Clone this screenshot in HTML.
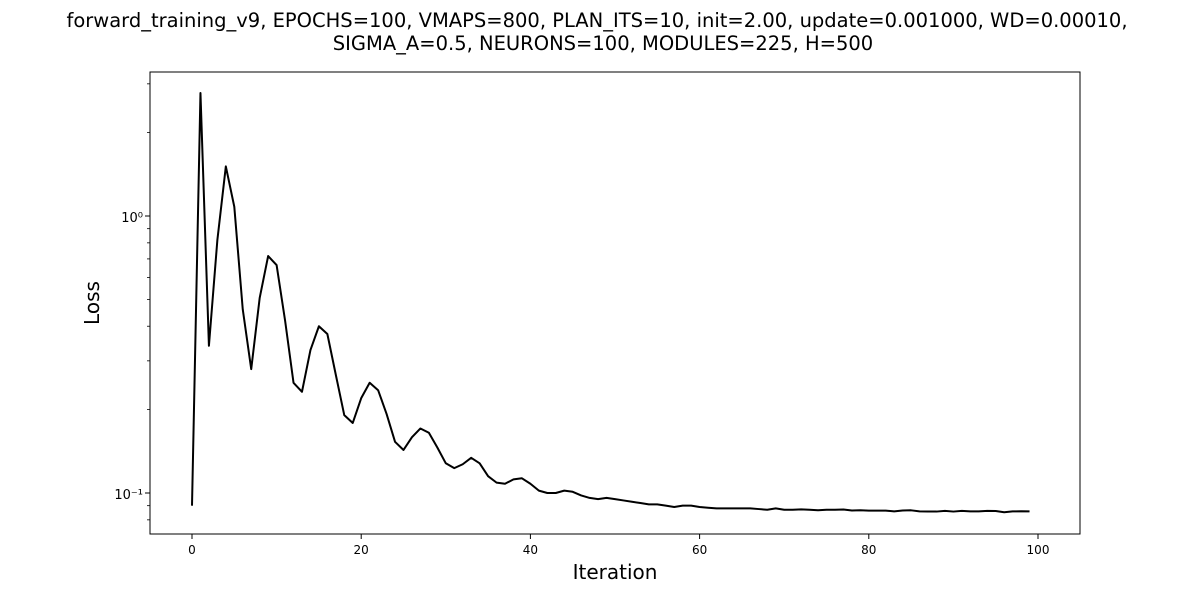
<!DOCTYPE html>
<html><head><meta charset="utf-8"><style>
html,body{margin:0;padding:0;background:#fff;}
svg{display:block;font-family:"DejaVu Sans","Liberation Sans",sans-serif;}
</style></head><body>
<svg id="chart" width="1200" height="600">
<text x="597" y="27" font-size="19.5" text-anchor="middle">forward_training_v9, EPOCHS=100, VMAPS=800, PLAN_ITS=10, init=2.00, update=0.001000, WD=0.00010,</text>
<text x="603" y="50" font-size="19.5" text-anchor="middle">SIGMA_A=0.5, NEURONS=100, MODULES=225, H=500</text>
<g id="axes"></g>
<text x="615" y="579" font-size="20" text-anchor="middle">Iteration</text>
<text transform="translate(99,303) rotate(-90)" font-size="20" text-anchor="middle">Loss</text>
</svg>
<script>
const losses = [0.090,2.78,0.34,0.82,1.51,1.08,0.46,0.28,0.506,0.717,0.665,0.42,0.25,0.232,0.328,0.40,0.375,0.267,0.191,0.179,
0.22,0.25,0.235,0.193,0.153,0.143,0.159,0.171,0.165,0.146,0.128,0.123,0.127,0.134,0.128,0.115,0.109,0.108,0.112,0.113,
0.108,0.102,0.100,0.100,0.102,0.101,0.098,0.096,0.095,0.096,0.095,0.094,0.093,0.092,0.091,0.091,0.090,0.089,0.090,0.090,
0.089,0.0885,0.088,0.088,0.088,0.088,0.088,0.0875,0.087,0.088,0.087,0.087,0.0873,0.087,0.0866,0.087,0.087,0.0872,0.0865,0.0866,
0.0864,0.0864,0.0864,0.0858,0.0865,0.0866,0.0858,0.0857,0.0857,0.0862,0.0857,0.0862,0.0858,0.0858,0.0862,0.0861,0.0852,0.0858,0.0859,0.0858];
const xTicks = [0,20,40,60,80,100];
const yMajor = [0.1,1];
const yMajorLabels = ["10\u207B\u00B9","10\u2070"];
const yMinor = [0.08,0.09,0.2,0.3,0.4,0.5,0.6,0.7,0.8,0.9,2,3];

const NS="http://www.w3.org/2000/svg";
const L=150,R=1080,T=72,B=534;
function xs(v){return 192+(v-0)*(1038-192)/100;}
function ys(v){return 216-Math.log10(v)*277;}
const g=document.getElementById('axes');
function mk(tag,attrs,parent){const e=document.createElementNS(NS,tag);for(const k in attrs)e.setAttribute(k,attrs[k]);(parent||g).appendChild(e);return e;}

let d='';
losses.forEach((v,i)=>{d+=(i?'L':'M')+xs(i).toFixed(2)+','+ys(v).toFixed(2);});
const line=mk('path',{d:d,fill:'none',stroke:'#000','stroke-width':2,'stroke-linejoin':'round'});



const frame=mk('rect',{x:L,y:T,width:R-L,height:B-T,fill:'none',stroke:'#000','stroke-width':1});



xTicks.forEach(t=>{
  const x=xs(t);
  const tk=mk('line',{x1:x,x2:x,y1:B,y2:B+5,stroke:'#000'});
  
  
  const tx=mk('text',{x:x,y:B+20,'font-size':12,'text-anchor':'middle'});
  tx.textContent=t;
  
  
});
yMajor.forEach((v,i)=>{
  const y=ys(v);
  const tk=mk('line',{x1:L-5,x2:L,y1:y,y2:y,stroke:'#000'});
  
  
  const tx=mk('text',{x:L-7,y:y+6,'font-size':13,'text-anchor':'end'});
  tx.textContent=yMajorLabels[i];
  
  
});
yMinor.forEach(v=>{
  const y=ys(v);
  const tk=mk('line',{x1:L-3,x2:L,y1:y,y2:y,stroke:'#000','stroke-width':0.8});
  
  
});
</script>
</body></html>
